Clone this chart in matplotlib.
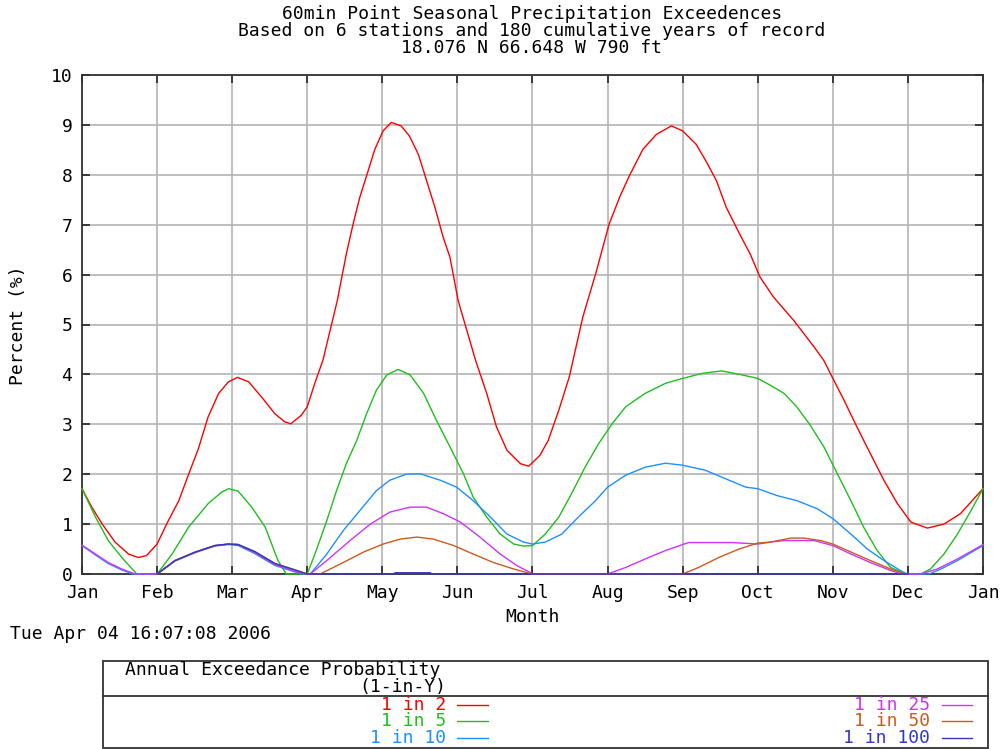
import matplotlib
matplotlib.use("Agg")
import matplotlib.pyplot as plt
from matplotlib.lines import Line2D
from matplotlib.patches import Rectangle

# month axis: 0 = Jan ... 12 = Jan (next)
month_labels = ["Jan", "Feb", "Mar", "Apr", "May", "Jun", "Jul",
                "Aug", "Sep", "Oct", "Nov", "Dec", "Jan"]

# 1 in 2
x_2 = [0.0, 0.13, 0.27, 0.44, 0.62, 0.75, 0.86, 1.0, 1.15, 1.29, 1.42, 1.55, 1.68,
       1.82, 1.95, 2.07, 2.22, 2.39, 2.57, 2.70, 2.78, 2.92, 3.0, 3.10, 3.21, 3.40,
       3.52, 3.61, 3.70, 3.79, 3.90, 4.01, 4.12, 4.25, 4.36, 4.48, 4.59, 4.70, 4.81,
       4.90, 5.01, 5.24, 5.39, 5.52, 5.66, 5.84, 5.95, 6.10, 6.21, 6.35, 6.49,
       6.67, 6.84, 7.02, 7.16, 7.29, 7.47, 7.65, 7.85, 8.0, 8.18, 8.32, 8.45, 8.58,
       8.76, 8.90, 9.03, 9.21, 9.48, 9.75, 9.88, 9.99, 10.15, 10.32, 10.50, 10.68,
       10.86, 11.04, 11.26, 11.48, 11.70, 12.0]
y_2 = [1.71, 1.34, 1.0, 0.64, 0.40, 0.33, 0.37, 0.60, 1.07, 1.47, 2.0, 2.51, 3.15,
       3.62, 3.85, 3.94, 3.85, 3.55, 3.21, 3.05, 3.01, 3.18, 3.35, 3.82, 4.29, 5.48,
       6.41, 7.01, 7.55, 7.98, 8.51, 8.88, 9.05, 8.98, 8.78, 8.41, 7.88, 7.35, 6.75,
       6.35, 5.48, 4.29, 3.62, 2.95, 2.48, 2.21, 2.16, 2.38, 2.68, 3.28, 3.95,
       5.15, 6.01, 7.01, 7.55, 7.98, 8.51, 8.81, 8.98, 8.88, 8.61, 8.25, 7.88, 7.35,
       6.81, 6.41, 5.95, 5.55, 5.08, 4.55, 4.28, 3.95, 3.48, 2.95, 2.41, 1.88,
       1.41, 1.04, 0.92, 1.0, 1.21, 1.71]

# 1 in 5
x_5 = [0.0, 0.18, 0.35, 0.53, 0.73, 1.0, 1.20, 1.42, 1.68, 1.86, 1.95, 2.08, 2.26,
       2.44, 2.61, 2.72, 3.0, 3.12, 3.26, 3.39, 3.52, 3.66, 3.79, 3.92, 4.06, 4.21,
       4.37, 4.55, 4.72, 4.90, 5.08, 5.21, 5.39, 5.57, 5.75, 5.88, 6.0, 6.17, 6.35,
       6.52, 6.70, 6.88, 7.06, 7.24, 7.50, 7.77, 8.0, 8.26, 8.52, 8.79, 9.0, 9.17,
       9.35, 9.52, 9.70, 9.88, 10.06, 10.24, 10.41, 10.59, 10.77, 10.97, 11.17, 11.30,
       11.48, 11.66, 11.84, 12.0]
y_5 = [1.71, 1.14, 0.67, 0.33, 0.0, 0.0, 0.40, 0.94, 1.41, 1.64, 1.71, 1.66, 1.34,
       0.94, 0.27, 0.0, 0.0, 0.47, 1.07, 1.67, 2.21, 2.68, 3.21, 3.68, 3.99, 4.10,
       3.99, 3.62, 3.08, 2.55, 2.01, 1.54, 1.14, 0.80, 0.60, 0.56, 0.57, 0.80, 1.14,
       1.61, 2.14, 2.61, 3.01, 3.35, 3.62, 3.82, 3.92, 4.02, 4.07, 3.99, 3.92, 3.78,
       3.62, 3.35, 2.98, 2.55, 2.01, 1.47, 0.94, 0.47, 0.13, 0.0, 0.0, 0.10,
       0.40, 0.80, 1.27, 1.71]

# 1 in 10
x_10 = [0.0, 0.18, 0.35, 0.53, 0.68, 1.0, 1.24, 1.51, 1.77, 1.95, 2.08, 2.30, 2.57,
        2.84, 2.97, 3.04, 3.26, 3.48, 3.70, 3.92, 4.10, 4.32, 4.50, 4.77, 4.99, 5.21,
        5.44, 5.66, 5.88, 6.0, 6.17, 6.39, 6.61, 6.84, 7.0, 7.24, 7.50, 7.77, 8.0,
        8.30, 8.57, 8.84, 9.0, 9.26, 9.52, 9.79, 10.0, 10.24, 10.46, 10.68, 10.90,
        10.99, 11.28, 11.44, 11.66, 12.0]
y_10 = [0.57, 0.38, 0.21, 0.08, 0.0, 0.0, 0.26, 0.43, 0.56, 0.59, 0.57, 0.41, 0.17,
        0.04, 0.0, 0.0, 0.40, 0.87, 1.27, 1.67, 1.88, 2.0, 2.01, 1.88, 1.74, 1.47,
        1.14, 0.80, 0.64, 0.60, 0.64, 0.80, 1.14, 1.47, 1.74, 1.98, 2.14, 2.22, 2.18,
        2.08, 1.91, 1.74, 1.71, 1.57, 1.47, 1.31, 1.11, 0.80, 0.50, 0.27, 0.07,
        0.0, 0.0, 0.10, 0.27, 0.57]

# 1 in 25
x_25 = [0.0, 0.18, 0.35, 0.53, 0.71, 1.0, 1.24, 1.51, 1.77, 1.95, 2.08, 2.30, 2.57,
        2.84, 2.98, 3.04, 3.26, 3.57, 3.84, 4.10, 4.37, 4.59, 4.81, 5.04, 5.30, 5.57,
        5.79, 5.97, 6.0, 7.0, 7.24, 7.50, 7.77, 8.0, 8.08, 8.66, 9.0, 9.17, 9.35,
        9.75, 10.0, 10.24, 10.50, 10.77, 10.92, 11.17, 11.39, 11.66, 12.0]
y_25 = [0.58, 0.40, 0.23, 0.10, 0.0, 0.0, 0.27, 0.44, 0.57, 0.60, 0.59, 0.43, 0.19,
        0.05, 0.0, 0.0, 0.27, 0.67, 1.00, 1.24, 1.34, 1.34, 1.21, 1.04, 0.74, 0.40,
        0.17, 0.03, 0.0, 0.0, 0.13, 0.30, 0.47, 0.59, 0.63, 0.63, 0.60, 0.64, 0.67,
        0.67, 0.57, 0.40, 0.23, 0.07, 0.0, 0.0, 0.10, 0.30, 0.59]

# 1 in 50
x_50 = [1.0, 1.24, 1.51, 1.77, 1.95, 2.08, 2.30, 2.57, 2.84, 3.0, 3.17, 3.44, 3.75,
        4.01, 4.24, 4.46, 4.68, 4.95, 5.21, 5.48, 5.75, 5.97, 6.0, 8.0, 8.21, 8.48,
        8.75, 9.0, 9.17, 9.44, 9.61, 9.84, 10.0, 10.24, 10.50, 10.77, 10.95]
y_50 = [0.0, 0.27, 0.44, 0.57, 0.60, 0.59, 0.45, 0.21, 0.08, 0.0, 0.0, 0.20, 0.44,
        0.60, 0.70, 0.74, 0.70, 0.57, 0.40, 0.23, 0.10, 0.01, 0.0, 0.0, 0.13, 0.33,
        0.50, 0.62, 0.64, 0.72, 0.72, 0.67, 0.60, 0.44, 0.27, 0.10, 0.01]

# 1 in 100
x_100 = [1.0, 1.24, 1.51, 1.77, 1.95, 2.08, 2.30, 2.57, 2.84, 3.0, 4.15, 4.17, 4.64,
         4.66, 11.0]
y_100 = [0.0, 0.27, 0.44, 0.57, 0.60, 0.59, 0.45, 0.21, 0.08, 0.0, 0.0, 0.025, 0.025,
         0.0, 0.0]

series = [
    ("1 in 2", x_2, y_2, "#ff0000"),
    ("1 in 5", x_5, y_5, "#1fbf1f"),
    ("1 in 10", x_10, y_10, "#1e90ff"),
    ("1 in 25", x_25, y_25, "#cc33ff"),
    ("1 in 50", x_50, y_50, "#cc5a1e"),
    ("1 in 100", x_100, y_100, "#3535c8"),
]

W, H = 1003, 749
mono = "DejaVu Sans Mono"
fs = 13


def fx(px):
    return px / W


def fy(py):
    return 1 - py / H


fig = plt.figure(figsize=(W / 100, H / 100), dpi=100, facecolor="white")
ax = fig.add_axes([fx(82), fy(574), fx(983) - fx(82), fy(75) - fy(574)])

for name, xs, ys, c in series:
    ax.plot(xs, ys, color=c, lw=1.0, zorder=3, clip_on=False)

ax.set_xlim(0, 12)
ax.set_ylim(0, 10)
ax.set_xticks(range(13))
ax.set_xticklabels(month_labels, fontfamily=mono, fontsize=fs)
ax.set_yticks(range(11))
ax.set_yticklabels([str(i) for i in range(11)], fontfamily=mono, fontsize=fs)
ax.grid(True, color="#b4b4b4", lw=1.2, zorder=1)
ax.set_axisbelow(True)
ax.tick_params(direction="in", length=5.5, width=1.2, color="#222222",
               top=True, right=True, pad=7)
for sp in ax.spines.values():
    sp.set_color("#333333")
    sp.set_linewidth(1.3)

# titles and labels
title = ["60min Point Seasonal Precipitation Exceedences",
         "Based on 6 stations and 180 cumulative years of record",
         "18.076 N 66.648 W 790 ft"]
for i, t in enumerate(title):
    fig.text(fx(532), fy(14 + 17 * i), t, ha="center", va="center",
             fontfamily=mono, fontsize=fs)
fig.text(fx(18), fy(325), "Percent (%)", rotation=90, ha="center", va="center",
         fontfamily=mono, fontsize=fs)
fig.text(fx(532), fy(617), "Month", ha="center", va="center",
         fontfamily=mono, fontsize=fs)
fig.text(fx(10), fy(634), "Tue Apr 04 16:07:08 2006", ha="left", va="center",
         fontfamily=mono, fontsize=fs)

# legend box
fig.add_artist(Rectangle((fx(103), fy(748)), fx(988) - fx(103), fy(661) - fy(748),
                         transform=fig.transFigure, fill=False,
                         edgecolor="#333333", lw=1.3))
fig.add_artist(Line2D([fx(103), fx(988)], [fy(696), fy(696)],
                      transform=fig.transFigure, color="#333333", lw=1.3))
fig.text(fx(125), fy(670), "Annual Exceedance Probability", ha="left", va="center",
         fontfamily=mono, fontsize=fs)
fig.text(fx(446), fy(687), "(1-in-Y)", ha="right", va="center",
         fontfamily=mono, fontsize=fs)

rows = [705, 721, 738]
for i, (name, xs, ys, c) in enumerate(series):
    col = i // 3
    row = rows[i % 3]
    tx = 446 if col == 0 else 930
    lx0, lx1 = (457, 488) if col == 0 else (942, 972)
    fig.text(fx(tx), fy(row), name, ha="right", va="center", color=c,
             fontfamily=mono, fontsize=fs)
    fig.add_artist(Line2D([fx(lx0), fx(lx1)], [fy(row), fy(row)],
                          transform=fig.transFigure, color=c, lw=1.0))

fig.savefig("out.png", dpi=100, facecolor="white")
